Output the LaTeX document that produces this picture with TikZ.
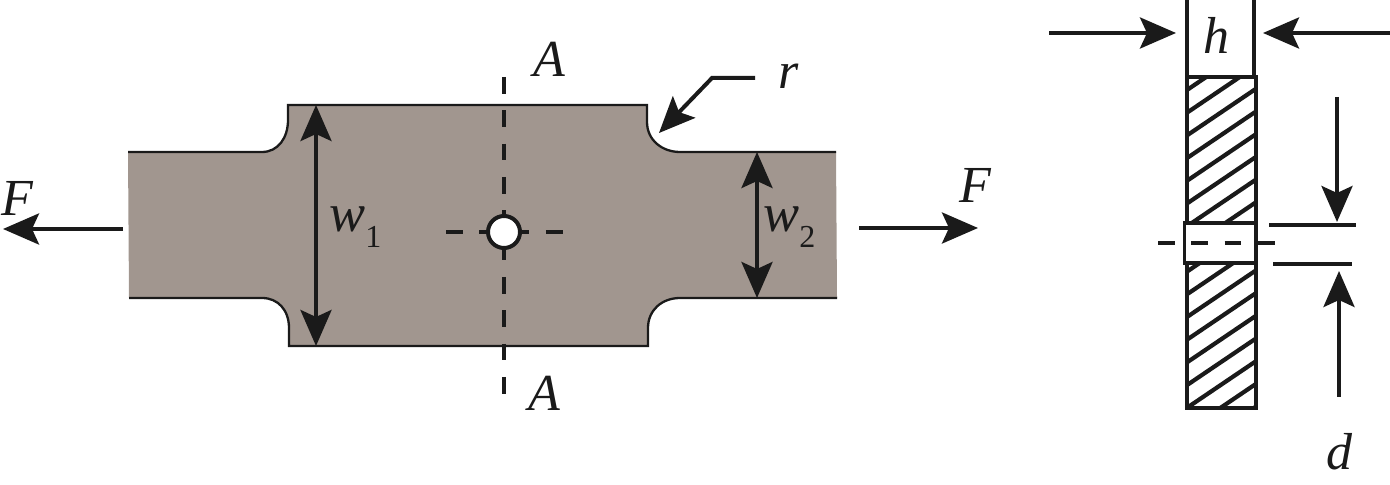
\documentclass[tikz,border=0pt]{standalone}
\usepackage{fontspec}
\setmainfont{Liberation Serif}
\usetikzlibrary{arrows.meta}
\definecolor{plate}{HTML}{A1968F}
\definecolor{ink}{HTML}{1A1A1A}
\newcommand{\widthlabel}[1]{{\fontsize{27}{30}\selectfont\textit{w}}\kern0pt\raisebox{-8pt}{\upshape\fontsize{16}{20}\selectfont #1}}
\begin{document}
\begin{tikzpicture}[x=0.5pt,y=-0.5pt]
\tikzstyle{body} = [draw=ink,line width=1.15pt]
\tikzstyle{section} = [draw=ink,line width=2.2pt]
\tikzstyle{hatch} = [draw=ink,line width=2.1pt]
\tikzstyle{lbl} = [inner sep=0pt,text=ink,font=\fontsize{26}{30}\selectfont\itshape]
\tikzstyle{connector} = [-{Stealth[length=18pt,width=15.5pt,inset=3.5pt]},draw=ink,line width=2pt]
\tikzstyle{dimension} = [{Stealth[length=18pt,width=15.5pt,inset=3.5pt]}-{Stealth[length=18pt,width=15.5pt,inset=3.5pt]},draw=ink,line width=2pt]
\tikzstyle{center} = [draw=ink,line width=2.1pt,dash pattern=on 8.33pt off 8.33pt]
\tikzstyle{extension} = [draw=ink,line width=2.1pt]
\useasboundingbox (0,0) rectangle (1390,485);

\fill[plate] (128,152) -- (262,152) .. controls (278,152) and (288,138) .. (288,120) -- (288,105)
  -- (647,105) -- (647,122) .. controls (647,140) and (662,152) .. (680,152) -- (836,152)
  -- (837,298) -- (680,298) .. controls (662,298) and (648,310) .. (648,328) -- (648,346)
  -- (289,346) -- (289,328) .. controls (289,310) and (278,298) .. (262,298) -- (129,298) -- cycle;
\draw[body] (128,152) -- (262,152) .. controls (278,152) and (288,138) .. (288,120) -- (288,105)
  -- (647,105) -- (647,122) .. controls (647,140) and (662,152) .. (680,152) -- (836,152);
\draw[body] (837,298) -- (680,298) .. controls (662,298) and (648,310) .. (648,328) -- (648,346)
  -- (289,346) -- (289,328) .. controls (289,310) and (278,298) .. (262,298) -- (129,298);

\coordinate (at) at (504,77);
\coordinate (ab) at (504,395);
\coordinate (cl) at (446,232);
\coordinate (cr) at (563,232);
\draw[center] (at) -- (ab);
\draw[center] (cl) -- (cr);
\node[circle,draw=ink,fill=white,line width=2pt,minimum size=16pt,inner sep=0pt](hole) at (504,232){};

\coordinate (w1t) at (316,105);
\coordinate (w1b) at (316,346);
\coordinate (w2t) at (757,152);
\coordinate (w2b) at (757,298);
\draw[dimension] (w1t) -- (w1b);
\draw[dimension] (w2t) -- (w2b);

\coordinate (fls) at (123,229);
\coordinate (fle) at (3,229);
\coordinate (frs) at (859,228);
\coordinate (fre) at (978,228);
\draw[connector] (fls) -- (fle);
\draw[connector] (frs) -- (fre);
\coordinate (rs) at (755,78);
\coordinate (rk) at (712,78);
\coordinate (re) at (659,133);
\draw[connector] (rs) -- (rk) -- (re);

\node[lbl](aup) at (549,59){A};
\node[lbl](adn) at (544,393){A};
\node[lbl](rad) at (789,76){r};
\node[lbl](fl) at (17,198){F};
\node[lbl](fr) at (975,185){F};
\node[lbl,anchor=base west](w1) at (329,232){\widthlabel{1}};
\node[lbl,anchor=base west](w2) at (763,232){\widthlabel{2}};

\begin{scope}
\clip (1187,77) rectangle (1255,408);
\foreach \i in {0,...,19}
  \draw[hatch] (1187,90+22.7*\i) -- (1255,90+22.7*\i-46);
\end{scope}
\draw[section] (1187,0) -- (1187,77);
\draw[section] (1254,0) -- (1254,77);
\draw[section] (1187,77) rectangle (1256,408);
\node[rectangle,draw=ink,fill=white,line width=1.9pt,minimum width=35.5pt,minimum height=20pt,inner sep=0pt](band) at (1220,243){};

\coordinate (dl) at (1158,243);
\coordinate (dr) at (1275,243);
\draw[center] (dl) -- (dr);

\node[lbl](hh) at (1216,35){h};
\node[lbl](dd) at (1339,452){d};

\coordinate (hls) at (1049,33);
\coordinate (hle) at (1176,33);
\coordinate (hrs) at (1390,33);
\coordinate (hre) at (1263,33);
\draw[connector] (hls) -- (hle);
\draw[connector] (hrs) -- (hre);

\coordinate (e1l) at (1269,225);
\coordinate (e1r) at (1356,225);
\coordinate (e2l) at (1273,264);
\coordinate (e2r) at (1352,264);
\draw[extension] (e1l) -- (e1r);
\draw[extension] (e2l) -- (e2r);

\coordinate (dts) at (1337,97);
\coordinate (dte) at (1337,222);
\coordinate (dbs) at (1339,397);
\coordinate (dbe) at (1339,271);
\draw[connector] (dts) -- (dte);
\draw[connector] (dbs) -- (dbe);
\end{tikzpicture}
\end{document}
